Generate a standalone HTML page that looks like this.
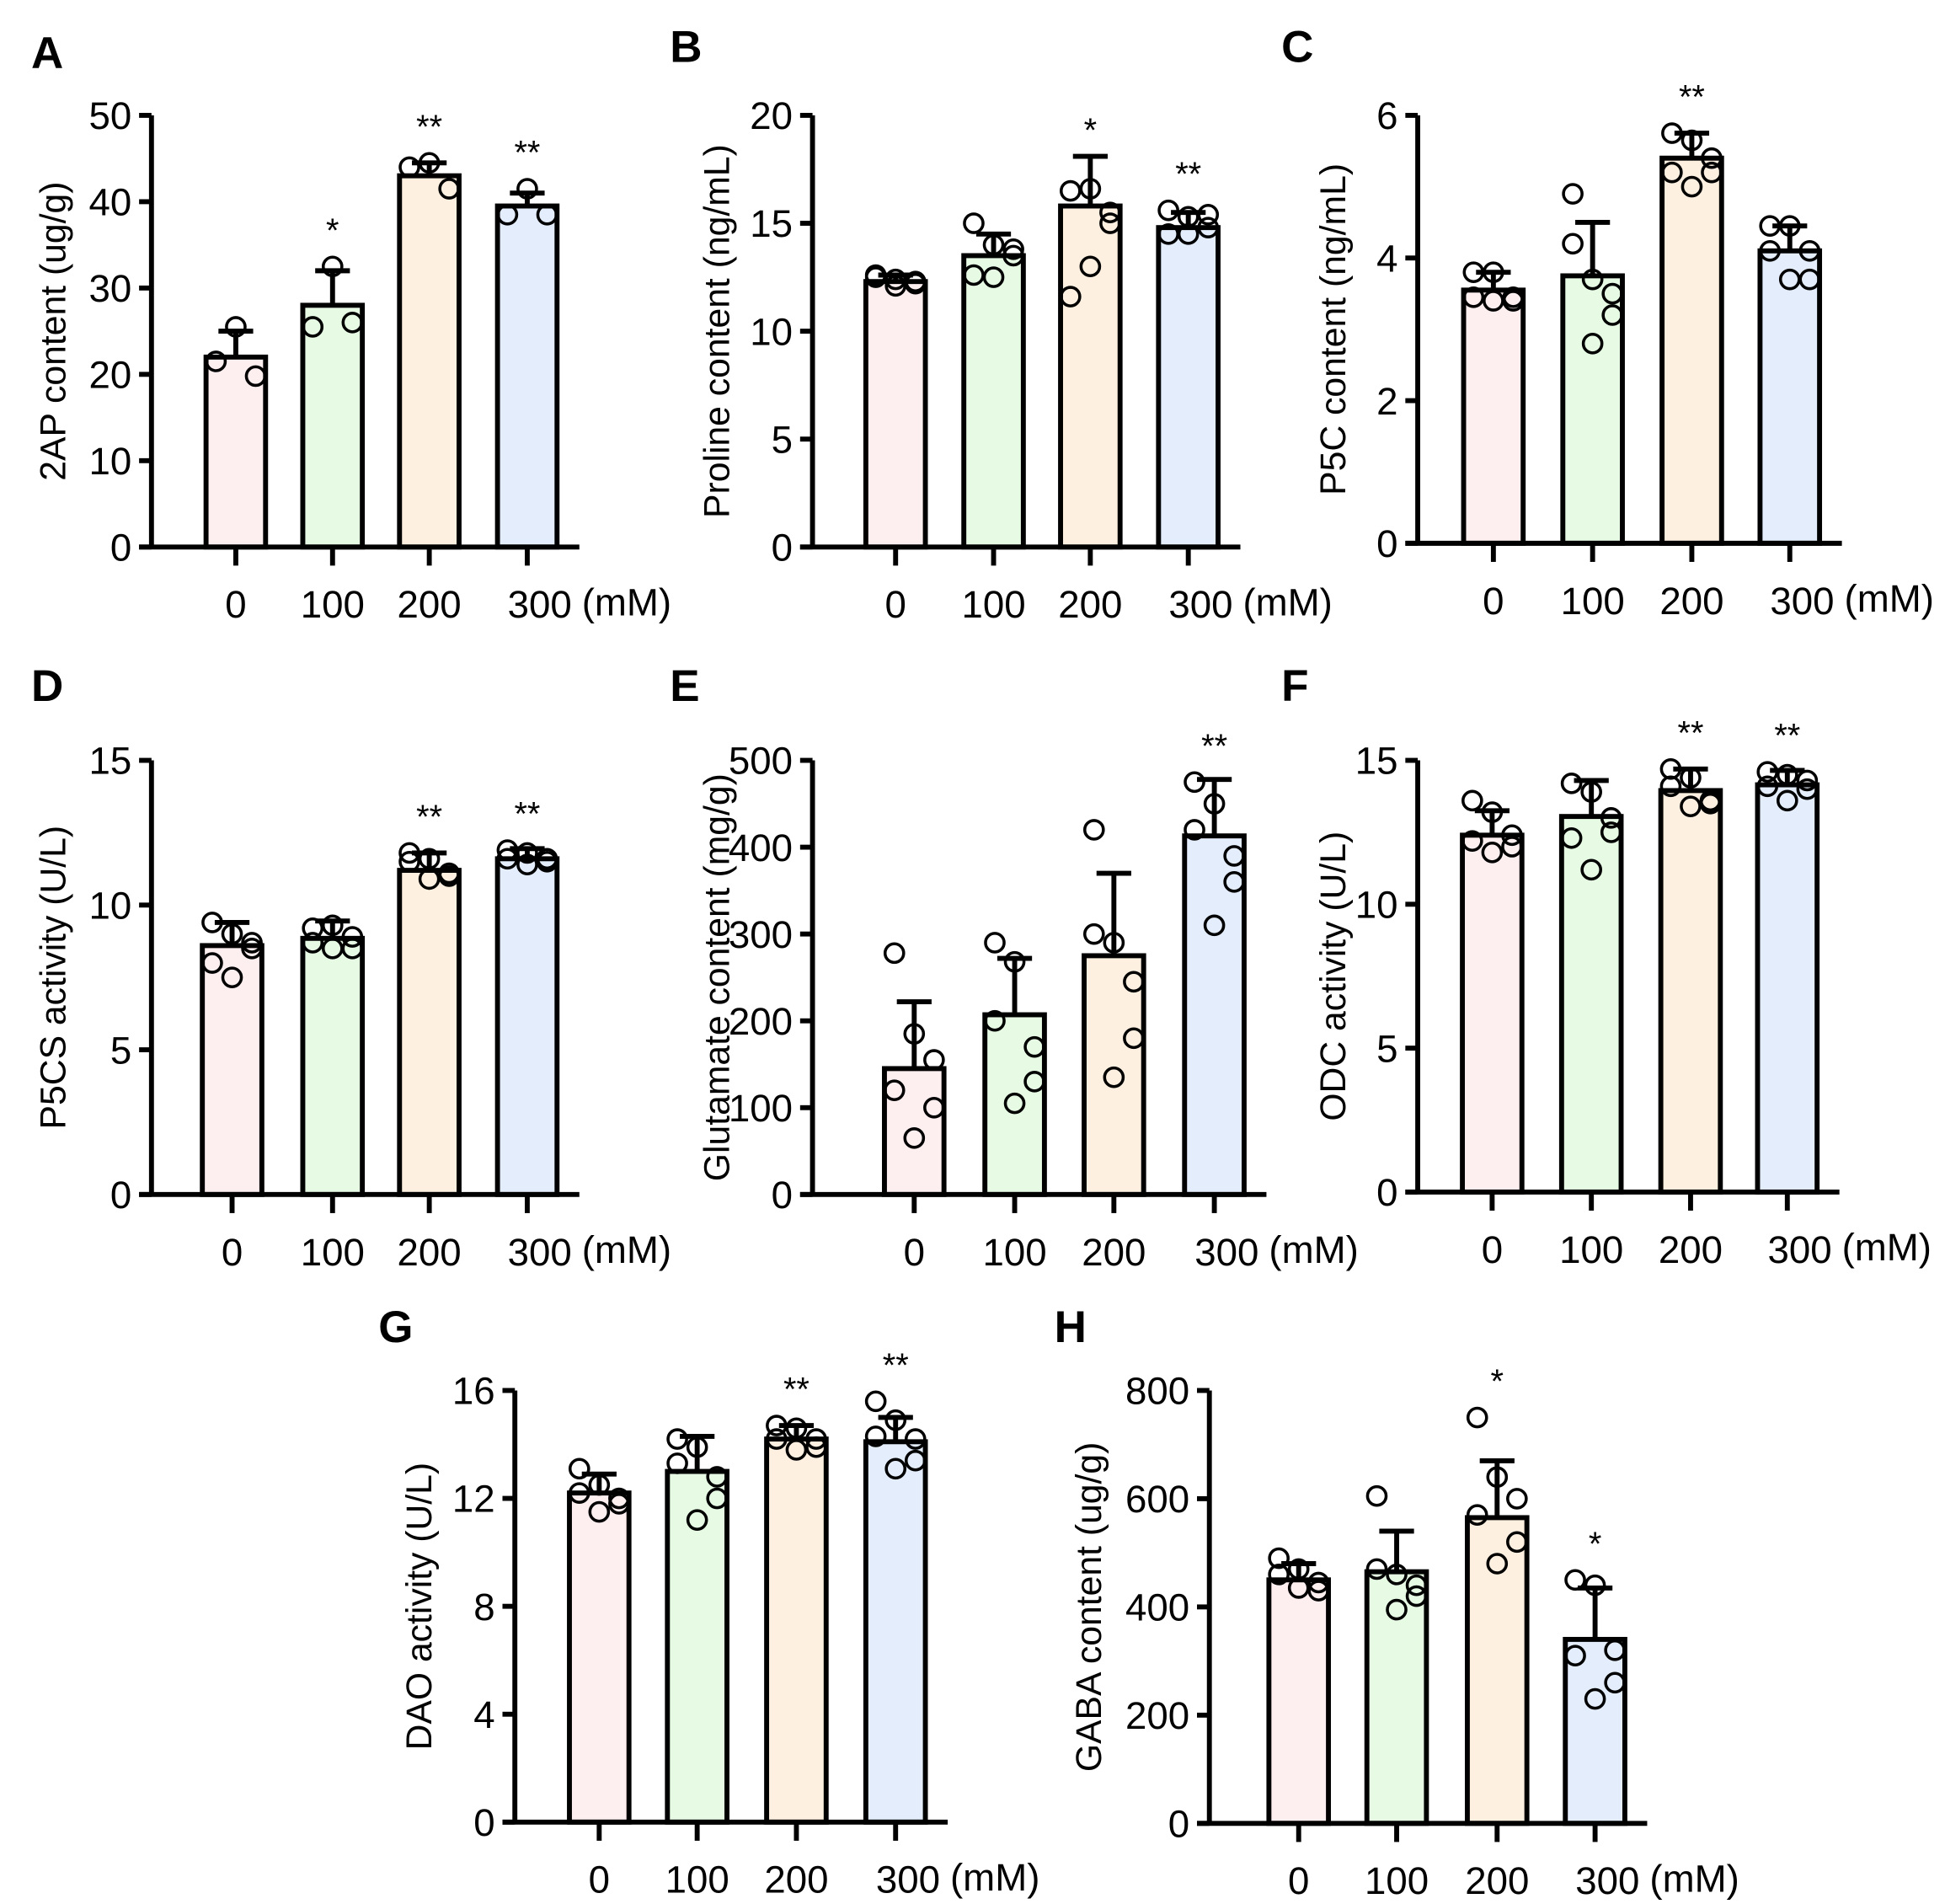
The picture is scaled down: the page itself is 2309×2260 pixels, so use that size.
<!DOCTYPE html>
<html><head><meta charset="utf-8"><style>
html,body{margin:0;padding:0;background:#fff}
svg{display:block}
text{font-family:"Liberation Sans",Arial,sans-serif;fill:#000}
</style></head><body>
<svg id="fig" width="2309" height="2260" viewBox="0 0 1568 1535" xmlns="http://www.w3.org/2000/svg"></svg>
<script>
const categories = ["0","100","200","300"];
const colors = ["#fdeef0","#e6fae4","#fdf0e0","#e3edfb"];
const aMeans=[22,28,43,39.5], aErr=[3,4,1.5,1.5], aSig=["","*","**","**"];
const aPts=[[25.5,21.5,19.8],[32.5,25.5,26],[44.5,44,41.5],[41.5,38.5,38.5]];
const bMeans=[12.3,13.5,15.8,14.8], bErr=[0.3,1,2.3,0.7], bSig=["","","*","**"];
const bPts=[[12.6,12.4,12.2,12.3,12.1,12.5],[15,14,13.8,13.5,12.5,12.6],[16.5,16.6,15.5,15,13,11.6],[15.6,15.3,15.4,14.8,14.5,14.5]];
const cMeans=[3.55,3.75,5.4,4.1], cErr=[0.25,0.75,0.35,0.35], cSig=["","","**",""];
const cPts=[[3.8,3.8,3.45,3.4,3.4,3.45],[4.9,3.7,3.5,3.2,2.8,4.2],[5.75,5.65,5.4,5.2,5.0,5.2],[4.45,4.45,4.1,3.7,3.7,4.1]];
const dMeans=[8.6,8.85,11.2,11.6], dErr=[0.8,0.6,0.6,0.35], dSig=["","","**","**"];
const dPts=[[9.4,9,8.7,8.5,7.5,8.0],[9.2,9.3,8.9,8.5,8.5,8.7],[11.8,11.6,11.1,11,10.9,11.5],[11.9,11.8,11.6,11.5,11.4,11.6]];
const eMeans=[145,207,275,413], eErr=[77,65,95,65], eSig=["","","","**"];
const ePts=[[278,185,155,100,65,120],[290,268,170,130,105,200],[420,290,245,180,135,300],[475,450,390,360,310,420]];
const fMeans=[12.4,13.05,13.95,14.15], fErr=[0.85,1.25,0.75,0.5], fSig=["","","**","**"];
const fPts=[[13.6,13.2,12.4,12,11.8,12.2],[14.2,13.9,13,12.5,11.2,12.3],[14.7,14.4,13.6,13.5,13.4,14.1],[14.6,14.5,14.3,14,13.6,14.1]];
const gMeans=[12.2,13,14.2,14.1], gErr=[0.7,1.3,0.5,0.9], gSig=["","","**","**"];
const gPts=[[13.1,12.5,12.0,11.8,11.5,12.2],[14.2,13.9,12.8,12,11.2,13.3],[14.7,14.6,14.2,13.9,13.8,14.2],[15.6,14.9,14.2,13.4,13.1,14.3]];
const hMeans=[450,465,565,340], hErr=[30,75,105,95], hSig=["","","*","*"];
const hPts=[[490,470,445,430,435,460],[605,460,440,420,395,470],[750,640,600,520,480,570],[450,440,320,260,230,310]];

const panels=[
 {id:"a",letter:"A",lx:25,ly:55,ax:122,y0:441,y1:93,max:50,ticks:[0,10,20,30,40,50],cx:[190,268,346,425],title:"2AP content (ug/g)",tx:45,means:aMeans,err:aErr,pts:aPts,sig:aSig},
 {id:"b",letter:"B",lx:540,ly:50,ax:655,y0:441,y1:93,max:20,ticks:[0,5,10,15,20],cx:[722,801,879,958],title:"Proline content (ng/mL)",tx:580,means:bMeans,err:bErr,pts:bPts,sig:bSig},
 {id:"c",letter:"C",lx:1033,ly:50,ax:1143,y0:438,y1:93,max:6,ticks:[0,2,4,6],cx:[1204,1284,1364,1443],title:"P5C content (ng/mL)",tx:1077,means:cMeans,err:cErr,pts:cPts,sig:cSig},
 {id:"d",letter:"D",lx:25,ly:565,ax:122,y0:963,y1:613,max:15,ticks:[0,5,10,15],cx:[187,268,346,425],title:"P5CS activity (U/L)",tx:45,means:dMeans,err:dErr,pts:dPts,sig:dSig},
 {id:"e",letter:"E",lx:540,ly:565,ax:655,y0:963,y1:613,max:500,ticks:[0,100,200,300,400,500],cx:[737,818,898,979],title:"Glutamate content (mg/g)",tx:580,means:eMeans,err:eErr,pts:ePts,sig:eSig},
 {id:"f",letter:"F",lx:1033,ly:565,ax:1143,y0:961,y1:613,max:15,ticks:[0,5,10,15],cx:[1203,1283,1363,1441],title:"ODC activity (U/L)",tx:1077,means:fMeans,err:fErr,pts:fPts,sig:fSig},
 {id:"g",letter:"G",lx:305,ly:1082,ax:415,y0:1469,y1:1121,max:16,ticks:[0,4,8,12,16],cx:[483,562,642,722],title:"DAO activity (U/L)",tx:340,means:gMeans,err:gErr,pts:gPts,sig:gSig},
 {id:"h",letter:"H",lx:850,ly:1082,ax:975,y0:1470,y1:1121,max:800,ticks:[0,200,400,600,800],cx:[1047,1126,1207,1286],title:"GABA content (ug/g)",tx:880,means:hMeans,err:hErr,pts:hPts,sig:hSig}
];
const NS="http://www.w3.org/2000/svg";
const svg=document.getElementById("fig");
function mk(parent,tag,attrs,txt){const e=document.createElementNS(NS,tag);for(const k in attrs)e.setAttribute(k,attrs[k]);if(txt!==undefined)e.textContent=txt;parent.appendChild(e);return e;}
panels.forEach(p=>{
  const g=mk(svg,"g",{});
  
  
  const Y=v=>p.y0-(v/p.max)*(p.y0-p.y1);
  const lab=mk(g,"text",{x:p.lx,y:p.ly,"font-size":36,"font-weight":"bold"},p.letter);
  
  
  const my=(p.y0+p.y1)/2;
  const tt=mk(g,"text",{x:p.tx,y:my,"font-size":29,"text-anchor":"middle",transform:`rotate(-90 ${p.tx} ${my})`,"dominant-baseline":"middle"},p.title);
  
  
  const bw=48;
  p.means.forEach((m,i)=>{
    const cx=p.cx[i];
    const bar=mk(g,"rect",{x:cx-bw/2,y:Y(m),width:bw,height:p.y0-Y(m),fill:colors[i],stroke:"#000","stroke-width":4});
    
    
    const et=Y(m+p.err[i]);
    const eb=mk(g,"path",{d:`M${cx} ${Y(m)}V${et}M${cx-14} ${et}H${cx+14}`,stroke:"#000","stroke-width":4,fill:"none"});
    
    
    const pts=p.pts[i], n=pts.length;
    let topY=et;
    pts.forEach((v,j)=>{
      const dx = n===3 ? [0,-16,16][j] : [-16,0,16,16,0,-16][j];
      topY=Math.min(topY,Y(v)-8);
      const c=mk(g,"circle",{cx:cx+dx,cy:Y(v),r:7.5,fill:"none",stroke:"#000","stroke-width":2.4});
      
      
    });
    if(p.sig[i]){
      const s=mk(g,"text",{x:cx,y:topY-12,"font-size":27,"text-anchor":"middle"},p.sig[i]);
      
      
    }
    const tk=mk(g,"line",{x1:cx,x2:cx,y1:p.y0,y2:p.y0+15,stroke:"#000","stroke-width":4});
    
    
    const tl=mk(g,"text",{x:cx+(i===3?10:0),y:p.y0+57,"font-size":31,"text-anchor":"middle"},categories[i]);
    
    
  });
  const unit=mk(g,"text",{x:p.cx[3]+44,y:p.y0+55,"font-size":31},"(mM)");
  
  
  const axes=mk(g,"path",{d:`M${p.ax} ${p.y1}V${p.y0}M${p.ax-10} ${p.y0}H${p.cx[3]+42}`,stroke:"#000","stroke-width":4,fill:"none"});
  
  
  p.ticks.forEach(t=>{
    const l=mk(g,"line",{x1:p.ax-10,x2:p.ax,y1:Y(t),y2:Y(t),stroke:"#000","stroke-width":4});
    
    
    const tl=mk(g,"text",{x:p.ax-16,y:Y(t)+11,"font-size":31,"text-anchor":"end"},String(t));
    
    
  });
});
</script>
</body></html>
